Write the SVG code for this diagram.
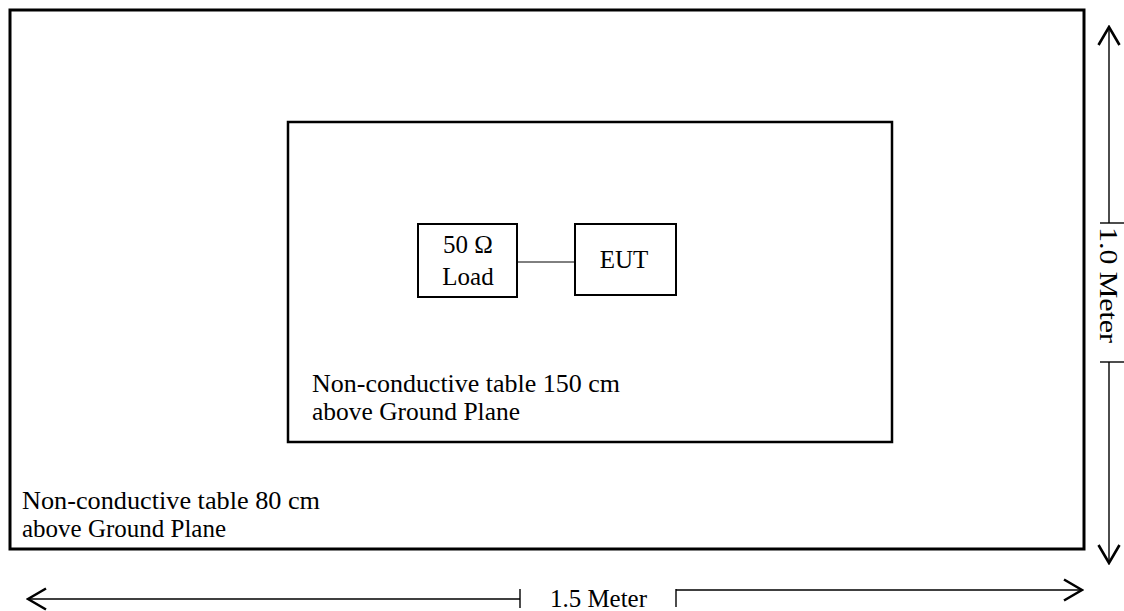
<svg xmlns="http://www.w3.org/2000/svg" width="1124" height="611" viewBox="0 0 1124 611">
<style>
.t{font-family:"Liberation Serif","Times New Roman",serif;font-size:25px;fill:#000}
.box{fill:none;stroke:#000}
.dim{stroke:#000;stroke-width:1.4;fill:none}
</style>
<defs>
<marker id="ah" viewBox="0 0 22 24" refX="20" refY="12" markerWidth="22" markerHeight="24" markerUnits="userSpaceOnUse" orient="auto">
<polyline points="2,1.5 20,12 2,22.5" fill="none" stroke="#000" stroke-width="2.6"/>
</marker>
</defs>
<rect width="1124" height="611" fill="#fff"/>
<g id="outer-table">
<rect class="box" x="10" y="10" width="1074" height="539" stroke-width="3"/>
<text class="t" x="22" y="509" textLength="298" lengthAdjust="spacingAndGlyphs">Non-conductive table 80 cm</text>
<text class="t" x="22" y="537" textLength="204" lengthAdjust="spacingAndGlyphs">above Ground Plane</text>
</g>
<g id="inner-table">
<rect class="box" x="288" y="122" width="604" height="320" stroke-width="2.5"/>
<text class="t" x="312" y="392" textLength="308" lengthAdjust="spacingAndGlyphs">Non-conductive table 150 cm</text>
<text class="t" x="312" y="420" textLength="208" lengthAdjust="spacingAndGlyphs">above Ground Plane</text>
</g>
<g id="load">
<rect class="box" x="418" y="224" width="99" height="73" stroke-width="2"/>
<text class="t" x="468" y="253" text-anchor="middle">50 Ω</text>
<text class="t" x="468" y="285" text-anchor="middle">Load</text>
</g>
<g id="eut">
<rect class="box" x="575" y="224" width="101" height="71" stroke-width="2"/>
<text class="t" x="624" y="268" text-anchor="middle">EUT</text>
</g>
<g id="connectors">
<line x1="517" y1="262" x2="575" y2="262" stroke="#000" stroke-width="1"/>
<line class="dim" x1="1109" y1="223" x2="1109" y2="27" marker-end="url(#ah)"/>
<line class="dim" x1="1100" y1="223" x2="1124" y2="223"/>
<line class="dim" x1="1109" y1="362" x2="1109" y2="563" marker-end="url(#ah)"/>
<line class="dim" x1="1100" y1="362" x2="1124" y2="362"/>
<line class="dim" x1="520" y1="599" x2="28" y2="599" marker-end="url(#ah)"/>
<line class="dim" x1="520" y1="589" x2="520" y2="608"/>
<line class="dim" x1="676" y1="590" x2="1082" y2="590" marker-end="url(#ah)"/>
<line class="dim" x1="676" y1="589" x2="676" y2="607"/>
</g>
<g id="dim-labels">
<text class="t" transform="translate(1100,285) rotate(90)" text-anchor="middle" textLength="116" lengthAdjust="spacingAndGlyphs">1.0 Meter</text>
<text class="t" x="550" y="607" textLength="97" lengthAdjust="spacingAndGlyphs">1.5 Meter</text>
</g>
</svg>
